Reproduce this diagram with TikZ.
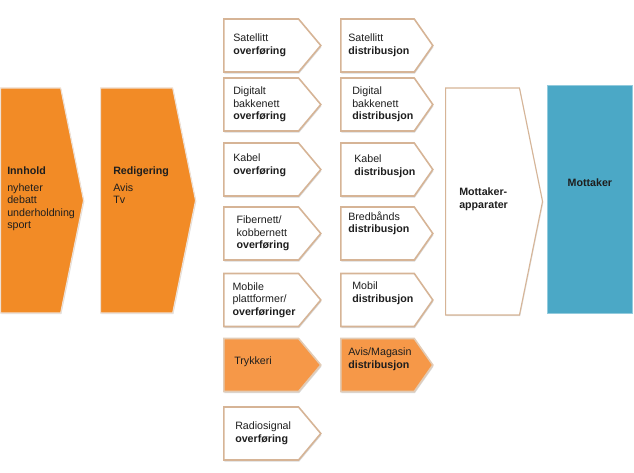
\documentclass[tikz,border=0pt]{standalone}
\usepackage{fontspec}
\setmainfont{Liberation Sans}
\usetikzlibrary{shapes.symbols,shadows,positioning}
\definecolor{oransje}{RGB}{242,139,38}
\definecolor{lysoransje}{RGB}{246,152,72}
\definecolor{kant}{RGB}{214,180,150}
\definecolor{blaa}{RGB}{75,168,198}
\definecolor{tekst}{RGB}{30,30,30}

\begin{document}
\begin{tikzpicture}[x=0.75pt,y=-0.75pt,every node/.style={font=\fontsize{8}{9.4}\selectfont,text=tekst},
  pil/.style={signal,signal to=east,anchor=west,inner sep=0pt,draw=kant,line width=1.2pt,fill=white,minimum height=39.75pt,drop shadow={shadow xshift=0.5pt,shadow yshift=-1.2pt,opacity=0.3}},
  pilA/.style={pil,minimum width=72.75pt,signal pointer angle=100},
  pilB/.style={pil,minimum width=69pt,signal pointer angle=110},
  stor/.style={signal,signal to=east,anchor=west,inner sep=0pt,draw=kant!40,line width=0.8pt,minimum height=168.75pt,signal pointer angle=157,drop shadow={shadow xshift=0.6pt,shadow yshift=-0.8pt,opacity=0.25}},
  tekstboks/.style={anchor=west,align=left,inner sep=0pt}]
\useasboundingbox (0,0) rectangle (634,473);

% hovedkjede
\node[stor,fill=oransje,minimum width=62.25pt] (innhold) at (0,200.5) {};
\node[stor,fill=oransje,minimum width=71.25pt] (redig) at (100,200.5) {};
\node[stor,fill=white,draw=kant,minimum width=72.75pt,minimum height=170.25pt] (apparat) at (445,201.5) {};
\node[anchor=west,fill=blaa,draw=blaa!60!white,line width=0.6pt,minimum width=63.75pt,minimum height=171pt] (mottaker) at (547,199) {};

\node[tekstboks,anchor=north west] (innholdtxt) at ([shift={(7,-34)}]innhold.west) {\textbf{Innhold}\\[3pt]nyheter\\debatt\\underholdning\\sport};
\node[tekstboks,anchor=north west] (redigtxt) at ([shift={(13,-34)}]redig.west) {\textbf{Redigering}\\[3pt]Avis\\Tv};
\node[tekstboks] (apparattxt) at ([shift={(14,-2)}]apparat.west) {\textbf{Mottaker-}\\\textbf{apparater}};
\node (mottakertxt) at ([yshift=12pt]mottaker.center) {\textbf{Mottaker}};

% overforing
\node[pilA] (sat) at (223,45.5) {};
\node[pilA] (dig) at (223,104.5) {};
\node[pilA] (kab) at (223,169.5) {};
\node[pilA] (fib) at (223,233.5) {};
\node[pilA] (mob) at (223,300) {};
\node[pilA,fill=lysoransje,draw=kant!70] (tryk) at (223,365) {};
\node[pilA] (rad) at (223,433.5) {};

\node[tekstboks] (sattxt) at ([xshift=7.5pt]sat.west) {Satellitt\\\textbf{overføring}};
\node[tekstboks] (digtxt) at ([xshift=7.5pt]dig.west) {Digitalt\\bakkenett\\\textbf{overføring}};
\node[tekstboks] (kabtxt) at ([shift={(10,-4)}]kab.west) {Kabel\\\textbf{overføring}};
\node[tekstboks] (fibtxt) at ([xshift=10pt]fib.west) {Fibernett/\\kobbernett\\\textbf{overføring}};
\node[tekstboks] (mobtxt) at ([xshift=7pt]mob.west) {Mobile\\plattformer/\\\textbf{overføringer}};
\node[tekstboks] (tryktxt) at ([shift={(11,-3)}]tryk.west) {Trykkeri};
\node[tekstboks] (radtxt) at ([xshift=9pt]rad.west) {Radiosignal\\\textbf{overføring}};

% distribusjon
\node[pilB] (satd) at (340,45.5) {};
\node[pilB] (digd) at (340,104.5) {};
\node[pilB] (kabd) at (340,169.5) {};
\node[pilB] (bred) at (340,233.5) {};
\node[pilB] (mobd) at (340,300) {};
\node[pilB,fill=lysoransje,draw=kant!70] (avis) at (340,365) {};

\node[tekstboks] (satdtxt) at ([xshift=6pt]satd.west) {Satellitt\\\textbf{distribusjon}};
\node[tekstboks] (digdtxt) at ([xshift=9pt]digd.west) {Digital\\bakkenett\\\textbf{distribusjon}};
\node[tekstboks] (kabdtxt) at ([shift={(14,-3)}]kabd.west) {Kabel\\\textbf{distribusjon}};
\node[tekstboks] (bredtxt) at ([shift={(8,-10)}]bred.west) {Bredbånds\\\textbf{distribusjon}};
\node[tekstboks] (mobdtxt) at ([shift={(12,-7)}]mobd.west) {Mobil\\\textbf{distribusjon}};
\node[tekstboks] (avistxt) at ([shift={(8,-6)}]avis.west) {Avis/Magasin\\\textbf{distribusjon}};
\end{tikzpicture}
\end{document}
